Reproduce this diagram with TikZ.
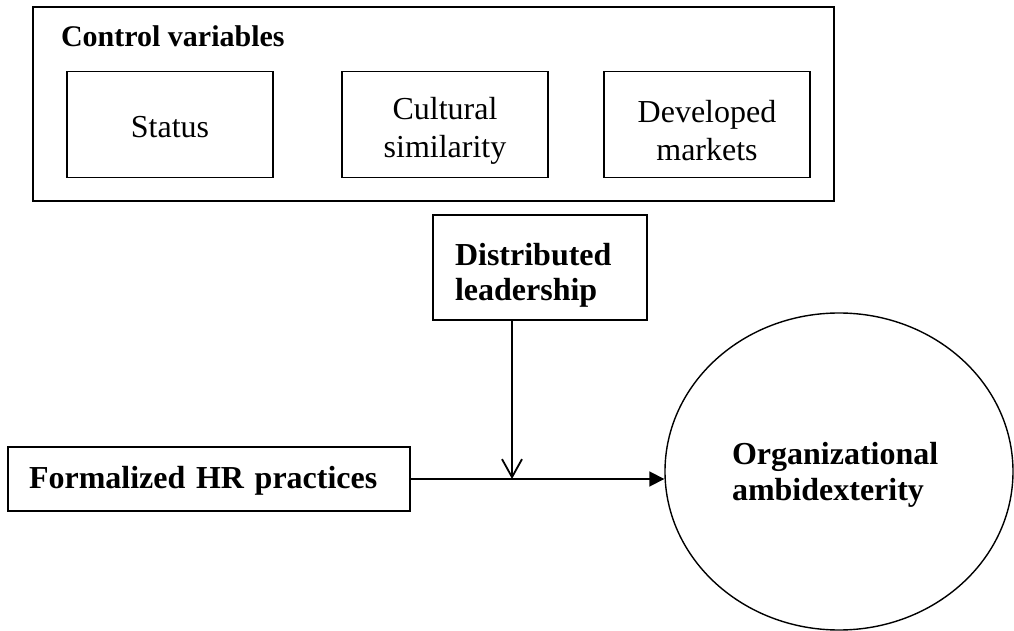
\documentclass[tikz,border=0pt]{standalone}
\usepackage{fontspec}
\setmainfont{Liberation Serif}
\usetikzlibrary{arrows.meta,shapes.geometric}

\begin{document}
\begin{tikzpicture}[x=0.5pt, y=-0.5pt,
	boite/.style={draw, line width=0.7pt, inner sep=0pt, align=center, font=\fontsize{16}{19}\selectfont},
	gras/.style={font=\fontsize{16}{17.5}\selectfont\bfseries},
	fleche/.style={line width=0.9pt, -{Triangle[length=7.5pt, width=7.5pt]}},
	modere/.style={line width=0.9pt, -{Straight Barb[length=9pt, width=10pt, line width=0.9pt]}}]
	\useasboundingbox (0,0) rectangle (1014,631);
	% Variables de contrôle
	\node[boite, minimum width=400.5pt, minimum height=97pt] (ctrl) at (433.5,104) {};
	\node[anchor=base west, font=\fontsize{15}{18}\selectfont\bfseries] (titre) at (54,47) {Control variables};
	\node[boite, minimum width=103pt, minimum height=53pt, text height=13pt] (statut) at (170,124.5) {Status};
	\node[boite, minimum width=103pt, minimum height=53pt, text height=36pt] (culture) at (445,124.5) {Cultural\\similarity};
	\node[boite, minimum width=103pt, minimum height=53pt, text height=36pt] (marches) at (707,124.5) {Developed\\markets};
	% Modérateur
	\node[boite, gras, minimum width=107pt, minimum height=52.5pt, inner xsep=11pt, text width=85pt, text height=19pt, align=left] (dl) at (540,267.5) {Distributed\\leadership};
	% Variable indépendante et dépendante
	\node[boite, gras, minimum width=201pt, minimum height=32pt, inner xsep=10.5pt, text width=180pt, text height=13pt, align=left] (hr) at (209,479) {Formalized HR practices};
	\node[ellipse, draw, line width=0.7pt, gras, font=\fontsize{16}{18}\selectfont\bfseries, minimum width=174pt, minimum height=158.5pt, text width=107pt, text height=14pt, align=left] (oa) at (839,471.5) {Organizational\\ambidexterity};
	% Flèches
	\coordinate (jonction) at (512,479);
	\draw[fleche] (hr.east) -- (oa.west |- hr.east);
	\draw[modere] (dl.south -| jonction) -- (jonction);
\end{tikzpicture}
\end{document}
